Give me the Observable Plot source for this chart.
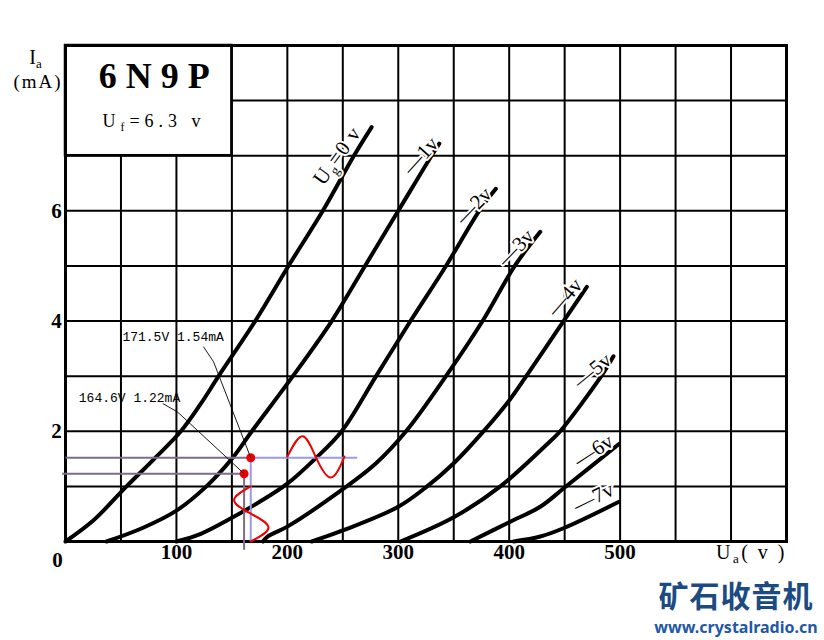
<!DOCTYPE html>
<html><head><meta charset="utf-8">
<script src="https://cdn.jsdelivr.net/npm/d3@7"></script>
<script src="https://cdn.jsdelivr.net/npm/@observablehq/plot@0.6"></script>
<style>body{margin:0;background:#fff}</style>
</head><body><div id="chart"></div>
<script>
// ---- data (Ua in V, Ia in mA) ----
const gridVoltages = ["0", "-1", "-2", "-3", "-4", "-5", "-6", "-7"];
const curve0 = [[0,0],[25,0.38],[55,1],[80,1.5],[104,2],[122,2.5],[138,3],[171,4],[201,5],[232,6],[260,7],[276,7.52]];
const curve1 = [[37,0],[70,0.25],[100,0.56],[127,1],[150,1.5],[168,2],[205,3],[240,4],[270,5],[300,6],[330,7],[337,7.22]];
const curve2 = [[100,0],[122,0.14],[150,0.43],[175,0.72],[200,1.05],[225,1.5],[249,2],[280,3],[311,4],[343,5],[373,6],[388,6.4]];
const curve3 = [[178,0],[183,0.1],[200,0.27],[250,0.95],[280,1.42],[307,2],[343,3],[376,4],[405,5],[428,5.62]];
const curve4 = [[222,0],[250,0.2],[300,0.63],[326,1],[350,1.42],[376,1.98],[400,2.56],[416,3.02],[449,4],[470,4.62]];
const curve5 = [[302,0],[350,0.44],[392,1],[437,1.82],[446,2],[483,3],[494,3.36]];
const curve6 = [[365,0],[400,0.35],[428,0.63],[450,0.98],[499,1.77]];
const curve7 = [[404,0],[428,0.09],[450,0.25],[499,0.72]];
const curveList = [curve0, curve1, curve2, curve3, curve4, curve5, curve6, curve7];

const curveLabelText = ["U_g=0 v", "—1v", "—2v", "—3v", "—4v", "—5v", "—6v", "—7v"];
const curveLabelUa = [245, 320, 368, 406, 450, 475, 476, 476];
const curveLabelIa = [7.0, 7.0, 6.09, 5.33, 4.43, 3.10, 1.65, 0.80];
const curveLabelAngle = [-54, -48, -46, -46, -49, -39, -33, -26];

const xGrid = [50,100,150,200,250,300,350,400,450,500,550,600];
const yGrid = [1,2,3,4,5,6,7,8];
const xTickLabels = [100, 200, 300, 400, 500];
const yTickLabels = [2, 4, 6];

// operating points and annotation
const opUa = [161, 167];
const opIa = [1.23, 1.52];
const annText = ["164.6V 1.22mA", "171.5V 1.54mA"];
const annUa = [57.7, 97];
const annIa = [2.60, 3.71];
const leaderLower = [[88,2.50],[101,2.35],[161,1.23]];
const leaderUpper = [[124.5,3.53],[133.5,3.26],[167,1.52]];
const guideLeft = [-3, 0];
const guideBottom = [-0.15, 0];
const guideRightEnd = 263;
const sineH = [[200,1.54],[213.5,1.91],[225.5,1.54],[239,1.16],[251.5,1.54]];
const sineV = [[167,1.0],[152,0.75],[167.5,0.5],[183,0.25],[167,0]];

// title box (Ua 0..150, Ia 7..9)
const titleBox = [{x1: 0, x2: 150, y1: 7, y2: 9}];

// ---- derived tables ----
const curveRows = curveList.flatMap((pts, i) => pts.map(([ua, ia]) => ({ug: gridVoltages[i], ua, ia})));
const labelRows = curveLabelText.map((t, i) => ({t, ua: curveLabelUa[i], ia: curveLabelIa[i], a: curveLabelAngle[i]}));
const ops = opUa.map((ua, i) => ({ua, ia: opIa[i]}));
const darkGuides = [
  {x1: guideLeft[0], y1: opIa[0], x2: opUa[0], y2: opIa[0]},
  {x1: opUa[0], y1: opIa[0], x2: opUa[0], y2: guideBottom[0]},
  {x1: guideLeft[1], y1: opIa[1], x2: opUa[1], y2: opIa[1]}
];
const lightGuides = [
  {x1: opUa[1], y1: opIa[1], x2: guideRightEnd, y2: opIa[1]},
  {x1: opUa[1], y1: opIa[1], x2: opUa[1], y2: guideBottom[1]}
];
const leaderRows = [
  ...leaderLower.map(([ua, ia]) => ({k: 0, ua, ia})),
  ...leaderUpper.map(([ua, ia]) => ({k: 1, ua, ia}))
];
const annRows = annText.map((t, i) => ({t, ua: annUa[i], ia: annIa[i]}));

const serif = "Liberation Serif, Times New Roman, serif";

const svg = Plot.plot({
  width: 824,
  height: 640,
  marginLeft: 65,
  marginRight: 38,
  marginTop: 45,
  marginBottom: 99,
  x: {domain: [0, 650], axis: null},
  y: {domain: [0, 9], axis: null},
  style: {background: "white", fontFamily: serif, color: "black"},
  marks: [
    Plot.ruleX(xGrid, {stroke: "black", strokeWidth: 2}),
    Plot.ruleY(yGrid, {stroke: "black", strokeWidth: 2}),
    Plot.rect(titleBox, {x1: "x1", x2: "x2", y1: "y1", y2: "y2", fill: "white", stroke: "black", strokeWidth: 2.5}),
    Plot.frame({stroke: "black", strokeWidth: 3}),
    Plot.line(curveRows, {x: "ua", y: "ia", z: "ug", stroke: "black", strokeWidth: 4, curve: "catmull-rom"}),
    Plot.link(darkGuides, {x1: "x1", y1: "y1", x2: "x2", y2: "y2", stroke: "#7d6c8d", strokeWidth: 2}),
    Plot.link(lightGuides, {x1: "x1", y1: "y1", x2: "x2", y2: "y2", stroke: "#9a9ae6", strokeWidth: 2}),
    Plot.line(sineH, {x: d => d[0], y: d => d[1], stroke: "#ee0000", strokeWidth: 2, curve: "natural"}),
    Plot.line(sineV, {x: d => d[0], y: d => d[1], stroke: "#ee0000", strokeWidth: 2, curve: "natural"}),
    Plot.dot(ops, {x: "ua", y: "ia", r: 4.5, fill: "#ee0000"}),
    Plot.line(leaderRows, {x: "ua", y: "ia", z: "k", stroke: "black", strokeWidth: 0.9}),
    Plot.text(annRows, {x: "ua", y: "ia", text: "t", fontFamily: "Liberation Mono, monospace", fontSize: 13, fill: "black"}),
    Plot.text(labelRows, {x: "ua", y: "ia", text: "t", rotate: "a", fontSize: 21, fontFamily: serif, fill: "black", stroke: "white", strokeWidth: 4}),
    // tick labels
    Plot.text(xTickLabels, {x: d => d, y: 0, text: d => String(d), dy: 11, fontSize: 21, fontWeight: "bold", fontFamily: serif}),
    Plot.text(yTickLabels, {x: 0, y: d => d, text: d => String(d), dx: -9, fontSize: 21, fontWeight: "bold", fontFamily: serif}),
    Plot.text([0], {x: 0, y: 0, text: d => String(d), dx: -8, dy: 19, fontSize: 21, fontWeight: "bold", fontFamily: serif}),
    // title box text
    Plot.text(["6 N 9 P"], {x: 80, y: 8.44, fontSize: 36, fontWeight: "bold", fontFamily: serif}),
    Plot.text(["U_f=6.3 v"], {x: 33.4, y: 7.62, textAnchor: "start", fontSize: 18, fontFamily: serif}),
    // axis labels
    Plot.text(["I_a"], {frameAnchor: "top-left", textAnchor: "middle", lineAnchor: "middle", dx: -30, dy: 12, fontSize: 20, fontFamily: serif}),
    Plot.text(["(mA)"], {frameAnchor: "top-left", textAnchor: "middle", lineAnchor: "middle", dx: -27.5, dy: 36, fontSize: 19, fontFamily: serif}),
    Plot.text(["U_a( v )"], {frameAnchor: "bottom-right", textAnchor: "middle", lineAnchor: "middle", dx: -35, dy: 11, fontSize: 20, fontFamily: serif}),
    // watermark
    Plot.text(["矿石收音机"], {frameAnchor: "bottom-right", textAnchor: "middle", lineAnchor: "middle", dx: -50.5, dy: 56, fontSize: 30, fontWeight: "bold", fontFamily: "Noto Sans CJK SC", fill: "#1b4b82"}),
    Plot.text(["www.crystalradio.cn"], {frameAnchor: "bottom-right", textAnchor: "middle", lineAnchor: "middle", dx: -50.5, dy: 86, fontSize: 16, fontWeight: "bold", fontFamily: "Noto Sans, sans-serif", fill: "#2257a5"})
  ]
});

const spacing = {"U_f=6.3 v": 5, "(mA)": 2, "U_a( v )": 2.5, "矿石收音机": 1, "U_g=0 v": 1};
svg.querySelectorAll("text").forEach(t => {
  const s = t.textContent;
  if (spacing[s] != null) t.setAttribute("letter-spacing", spacing[s]);
  if (s.includes("_")) {
    const holder = t.closest("[font-size]");
    const fs = holder ? parseFloat(holder.getAttribute("font-size")) : 16;
    const shift = 0.22 * fs;
    t.textContent = "";
    let pending = 0;
    for (const p of s.split(/(_.)/)) {
      if (!p) continue;
      const ts = document.createElementNS("http://www.w3.org/2000/svg", "tspan");
      if (p[0] === "_") {
        ts.textContent = p[1];
        ts.setAttribute("font-size", (0.65 * fs) + "px");
        ts.setAttribute("dy", shift);
        pending = -shift;
      } else {
        ts.textContent = p;
        if (pending) { ts.setAttribute("dy", pending); pending = 0; }
      }
      t.appendChild(ts);
    }
  }
});
document.getElementById("chart").append(svg);
</script>
</body></html>
